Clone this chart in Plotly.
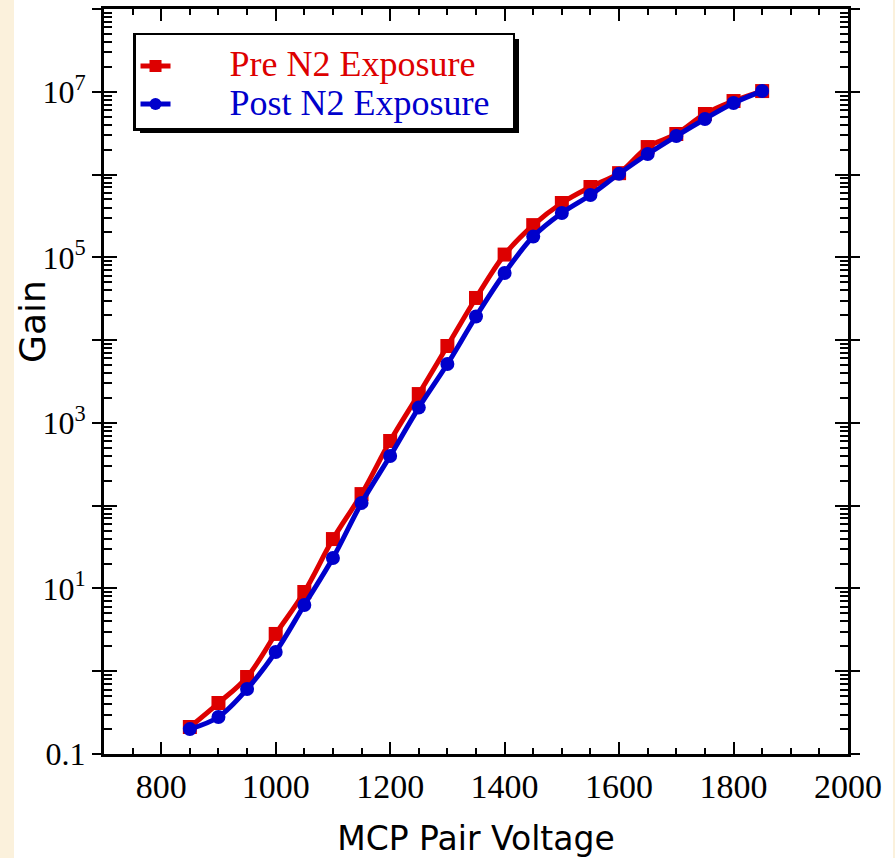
import plotly.graph_objects as go

voltage = [850, 900, 950, 1000, 1050, 1100, 1150, 1200, 1250, 1300, 1350,
           1400, 1450, 1500, 1550, 1600, 1650, 1700, 1750, 1800, 1850]
gain_pre = [0.212, 0.413, 0.851, 2.82, 9.06, 39.5, 138, 604, 2230, 8490, 32300,
            108000, 245000, 453000, 707000, 1.04e6, 2.15e6, 3.09e6, 5.39e6, 7.73e6, 1.02e7]
gain_post = [0.200, 0.280, 0.609, 1.71, 6.31, 23.3, 108, 398, 1530, 5140, 19300,
             64700, 178000, 343000, 566000, 1.02e6, 1.77e6, 2.92e6, 4.69e6, 7.31e6, 1.02e7]

y_tickvals = [1e-1, 1e0, 1e1, 1e2, 1e3, 1e4, 1e5, 1e6, 1e7, 1e8]
y_ticktext = ["0.1", "", "10<sup>1</sup>", "", "10<sup>3</sup>", "", "10<sup>5</sup>", "", "10<sup>7</sup>", ""]
x_tickvals = [800, 1000, 1200, 1400, 1600, 1800, 2000]

RED = "#DD0000"
BLUE = "#0000CC"
SERIF = "Liberation Serif, Times New Roman, serif"
SANS = "DejaVu Sans, sans-serif"


def legend_label(text, color):
    return ("<span style='color:%s;font-size:36px'>&nbsp;&nbsp;&nbsp;&nbsp;&nbsp;&nbsp;%s&nbsp;&nbsp;</span>"
            % (color, text))


fig = go.Figure()
fig.add_trace(go.Scatter(
    x=voltage, y=gain_pre, mode="lines+markers",
    name=legend_label("Pre N2 Exposure", RED),
    line=dict(color=RED, width=5, shape="spline", smoothing=1.0),
    marker=dict(symbol="square", size=14, color=RED),
))
fig.add_trace(go.Scatter(
    x=voltage, y=gain_post, mode="lines+markers",
    name=legend_label("Post N2 Exposure", BLUE),
    line=dict(color=BLUE, width=5, shape="spline", smoothing=1.0),
    marker=dict(symbol="circle", size=14, color=BLUE),
))
# helper trace so the outer-tick overlay axis is drawn
fig.add_trace(go.Scatter(x=[None], y=[None], yaxis="y2", showlegend=False, hoverinfo="skip"))

fig.update_layout(
    width=895, height=858,
    margin=dict(l=104, r=47, t=9, b=104),
    paper_bgcolor="#FBF1DC",
    plot_bgcolor="white",
    showlegend=True,
    legend=dict(
        x=0.039, y=0.968, xanchor="left", yanchor="top",
        bgcolor="white", bordercolor="black", borderwidth=2.5,
        font=dict(family=SERIF, size=27, color="black"),
        title=dict(text="&nbsp;", font=dict(size=5)),
        tracegroupgap=0, itemsizing="constant",
    ),
    xaxis=dict(
        range=[700, 2000], tickvals=x_tickvals, automargin=False,
        ticks="inside", ticklen=12, tickwidth=1.5, tickcolor="black",
        minor=dict(dtick=50, tick0=700, ticks="inside", ticklen=6, tickwidth=1.5, tickcolor="black"),
        showline=True, linewidth=3, linecolor="black", mirror="ticks",
        showgrid=False, zeroline=False,
        tickfont=dict(family=SERIF, size=34, color="black"),
        ticklabelstandoff=0,
        title=dict(text="MCP Pair Voltage", font=dict(family=SANS, size=33, color="black"), standoff=24),
    ),
    yaxis=dict(
        type="log", range=[-1, 8], tickvals=y_tickvals, ticktext=y_ticktext, automargin=False,
        ticks="inside", ticklen=13, tickwidth=1.5, tickcolor="black",
        minor=dict(dtick="D1", ticks="inside", ticklen=8, tickwidth=1.5, tickcolor="black"),
        showline=True, linewidth=3, linecolor="black", mirror="ticks",
        showgrid=False, zeroline=False,
        tickfont=dict(family=SERIF, size=32, color="black"),
        ticklabelstandoff=9,
    ),
    yaxis2=dict(
        type="log", range=[-1, 8], tickvals=y_tickvals, overlaying="y", side="left",
        ticks="outside", ticklen=11, tickwidth=1.5, tickcolor="black", automargin=False,
        showticklabels=False, showline=False, mirror="ticks",
        showgrid=False, zeroline=False,
    ),
)

fig.add_annotation(text="Gain", xref="paper", yref="paper", x=-0.0954, y=0.580,
                   xanchor="center", yanchor="middle", textangle=-90, showarrow=False,
                   font=dict(family=SANS, size=36, color="black"))

# white page area and legend drop shadow
fig.add_shape(type="rect", xref="paper", yref="paper", x0=-0.121, x1=1.0605, y0=-0.2, y1=1.05,
              fillcolor="white", line_width=0, layer="below")
fig.add_shape(type="rect", xref="paper", yref="paper", x0=0.0484, x1=0.5578, y0=0.8336, y1=0.9597,
              fillcolor="black", line_width=0, layer="above")

fig.write_html("out.html")
